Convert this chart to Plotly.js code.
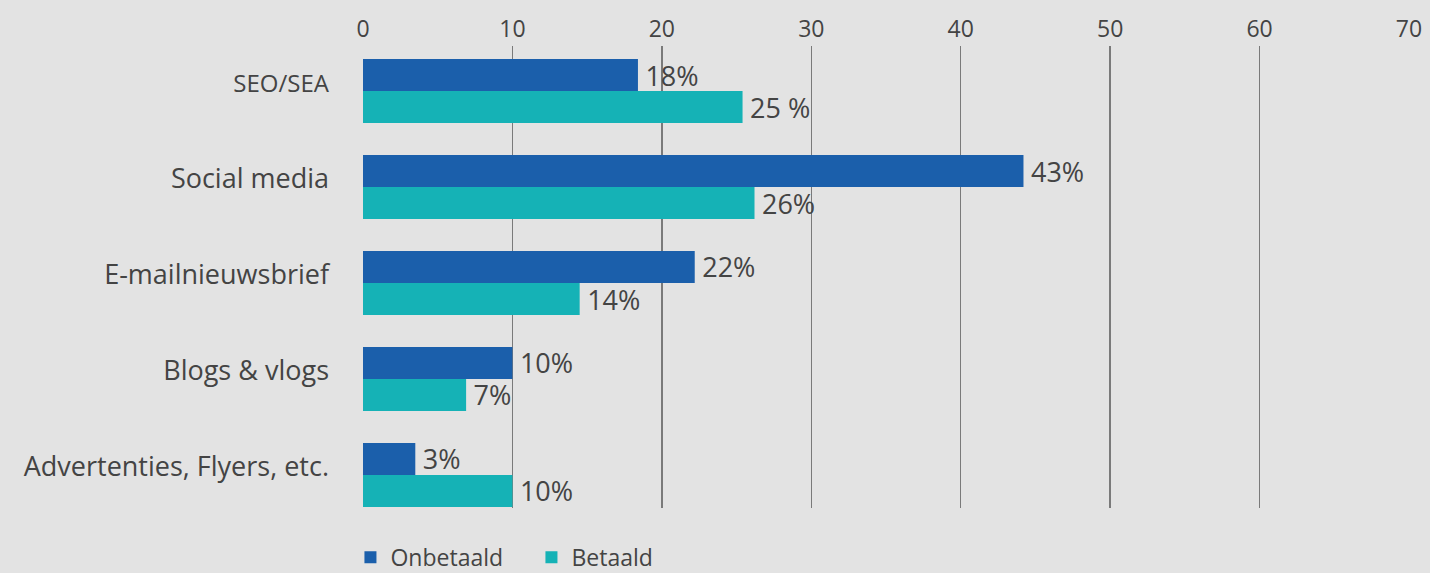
<!DOCTYPE html>
<html>
<head>
<meta charset="utf-8">
<script src="https://cdn.plot.ly/plotly-3.0.1.min.js"></script>
<style>html,body{margin:0;padding:0;background:#e3e3e3;}#chart{width:1430px;height:573px;}</style>
</head>
<body>
<div id="chart"></div>
<script>
var categories = ["<span style='font-size:24px'>SEO/SEA</span>", "Social media", "E-mailnieuwsbrief", "Blogs &amp; vlogs", "Advertenties, Flyers, etc."];
var onbetaald = [18.4, 44.2, 22.2, 10.0, 3.5];
var betaald = [25.4, 26.2, 14.5, 6.9, 10.0];
var onbetaaldLabels = ["18%", "43%", "22%", "10%", "3%"];
var betaaldLabels = ["25 %", "26%", "14%", "7%", "10%"];
var xTicks = [0, 10, 20, 30, 40, 50, 60, 70];

var pad = function (s) { return "\u2009" + s; };
var textFont = {family: "Open Sans, sans-serif", size: 27, color: "#444"};
var traces = [
  {type: "bar", orientation: "h", name: "Onbetaald", y: categories, x: onbetaald,
   text: onbetaaldLabels.map(pad), textposition: "outside", textfont: textFont, cliponaxis: false,
   constraintext: "none", marker: {color: "#1b5fab"}, hoverinfo: "none"},
  {type: "bar", orientation: "h", name: "Betaald", y: categories, x: betaald,
   text: betaaldLabels.map(pad), textposition: "outside", textfont: textFont, cliponaxis: false,
   constraintext: "none", marker: {color: "#15b2b6"}, hoverinfo: "none"}
];
var layout = {
  width: 1430, height: 573,
  paper_bgcolor: "#e3e3e3", plot_bgcolor: "#e3e3e3",
  margin: {l: 363, r: 21, t: 46, b: 65, pad: 0, autoexpand: false},
  barmode: "group", bargap: 0.333, bargroupgap: 0,
  font: {family: "Open Sans, sans-serif", color: "#444"},
  xaxis: {side: "top", range: [0, 70], tickvals: xTicks, ticktext: xTicks.map(String),
          showgrid: true, gridcolor: "#7a7a7a", gridwidth: 1.5, zeroline: false,
          showline: false, ticks: "", ticklabelstandoff: 3, tickfont: {size: 23, color: "#444"},
          fixedrange: true, automargin: false},
  yaxis: {type: "category", autorange: false, range: [4.344, -0.469],
          showgrid: false, zeroline: false, showline: false, ticks: "", ticklabelstandoff: 33,
          ticklabelshift: 8, tickfont: {size: 27, color: "#444"}, automargin: false},
  showlegend: true,
  legend: {orientation: "h", x: -0.012, xanchor: "left", y: -0.060, yanchor: "top",
           entrywidth: 136, entrywidthmode: "pixels",
           font: {size: 23, color: "#444"}, bgcolor: "rgba(0,0,0,0)", traceorder: "normal"}
};
Plotly.newPlot("chart", traces, layout, {displayModeBar: false, staticPlot: true});
</script>
</body>
</html>
